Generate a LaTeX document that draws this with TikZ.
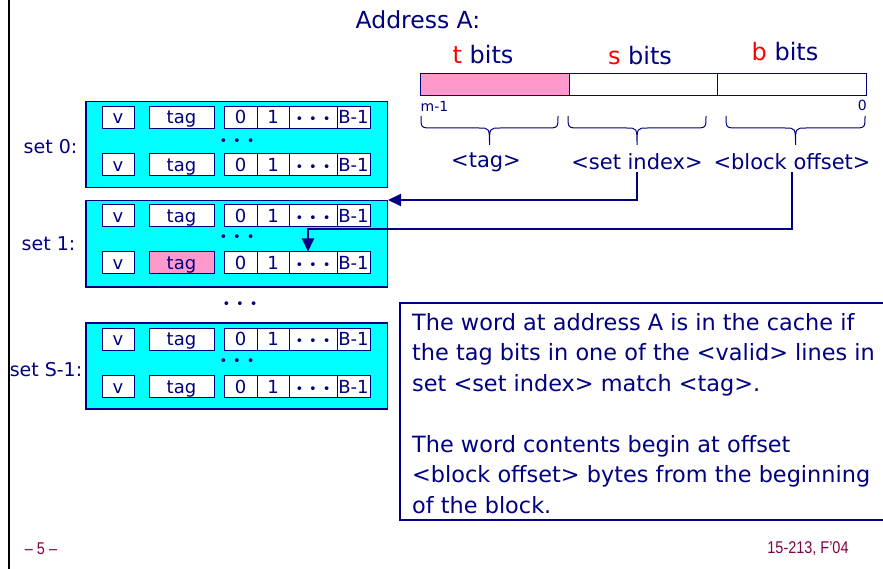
\documentclass[tikz,border=0pt]{standalone}
\usepackage{fontspec}
\setmainfont{DejaVu Sans}
\newfontfamily\footfont{Liberation Sans}
\usetikzlibrary{arrows.meta}
\definecolor{navy}{RGB}{0,0,128}
\definecolor{cyanfill}{RGB}{0,255,255}
\definecolor{pinkfill}{RGB}{255,153,204}
\definecolor{footcol}{RGB}{128,0,64}
\definecolor{bitred}{RGB}{255,0,0}
\newcommand\tdots{{\fontsize{13}{13}\selectfont •\hspace{6pt}•\hspace{6pt}•}}
\newcommand\drawcacheline[3]{%
  \node[cell, minimum width=32pt] (#1v) at (118,#2) {v};
  \node[cell, minimum width=65pt, fill=#3] (#1t) at (181.5,#2) {tag};
  \node[cell, minimum width=33pt] (#1z) at (240.5,#2) {0};
  \node[cell, minimum width=32pt] (#1o) at (273,#2) {1};
  \node[cell, minimum width=48pt] (#1d) at (313,#2) {\tdots};
  \node[cell, minimum width=33pt] (#1b) at (353.5,#2) {B-1};
}
\begin{document}
\begin{tikzpicture}[x=1pt,y=-1pt,
  setbox/.style={draw=navy, fill=cyanfill, line width=1.5pt, minimum width=301.5pt,
    minimum height=86pt, inner sep=0pt, anchor=north west},
  cell/.style={draw=navy, fill=white, line width=1pt, minimum height=22pt, inner sep=0pt,
    text=navy, font=\fontsize{18}{18}\selectfont, text height=15.5pt, text depth=2.5pt},
  setlbl/.style={text=navy, inner sep=0pt, font=\fontsize{19}{19}\selectfont},
  dotsnode/.style={text=navy, inner sep=0pt},
  bitbox/.style={draw=navy, fill=white, line width=1pt, minimum height=22pt, inner sep=0pt},
  bitlbl/.style={text=navy, inner sep=0pt, font=\fontsize{24}{24}\selectfont},
  fieldlbl/.style={text=navy, inner sep=2pt, font=\fontsize{21}{21}\selectfont},
  smalllbl/.style={text=navy, inner sep=0pt, font=\fontsize{14}{14}\selectfont},
  bracepath/.style={draw=navy, line width=1pt},
  conn/.style={draw=navy, line width=2pt, -{Triangle[length=13pt,width=12pt]}},
  notetext/.style={text=navy, inner sep=0pt, align=left, font=\fontsize{22.4}{30.5}\selectfont},
  noteborder/.style={draw=navy, line width=2pt},
  foot/.style={text=footcol, inner sep=0pt, font=\footfont\fontsize{17}{17}\selectfont}
]
\useasboundingbox (0,0) rectangle (883,569);
\fill[white] (0,0) rectangle (883,569);
\draw[black, line width=2pt] (8.5,0) -- (8.5,569);

% sets
\node[setbox] (set0) at (85,101) {};
\node[setbox] (set1) at (85,200) {};
\node[setbox] (setS) at (85,322) {};

\drawcacheline{a}{117.3}{white}
\node[dotsnode] (adots) at (237,142) {\tdots};
\drawcacheline{b}{165}{white}
\drawcacheline{c}{216}{white}
\node[dotsnode] (cdots) at (237,238) {\tdots};
\drawcacheline{d}{263}{pinkfill}
\drawcacheline{e}{339}{white}
\node[dotsnode] (edots) at (237,361.7) {\tdots};
\drawcacheline{f}{386.5}{white}

\node[dotsnode] (setdots) at (240,305) {\tdots};

\node[setlbl] (l0) at (50.5,147) {set 0:};
\node[setlbl] (l1) at (48.5,244) {set 1:};
\node[setlbl] (lS) at (46,370) {set S-1:};

% address
\node[text=navy, inner sep=0pt, font=\fontsize{23.5}{23.5}\selectfont] (addr) at (418,20) {Address A:};
\node[bitbox, fill=pinkfill, minimum width=149pt] (tbox) at (494.5,85) {};
\node[bitbox, minimum width=148pt] (sbox) at (643,85) {};
\node[bitbox, minimum width=149pt] (bbox) at (791.5,85) {};
\node[bitlbl] (tl) at (483,55) {{\color{bitred}t} bits};
\node[bitlbl] (sl) at (640,56) {{\color{bitred}s} bits};
\node[bitlbl] (bl) at (785,52) {{\color{bitred}b} bits};
\node[smalllbl, anchor=west] (msb) at (420.5,106) {m-1};
\node[smalllbl, anchor=east] (lsb) at (867,105) {0};

% braces
\draw[bracepath] (421,116) .. controls (421,128) .. (433,128) -- (479,128)
  .. controls (489.5,128) .. (489.5,145) .. controls (489.5,128) .. (500,128)
  -- (546,128) .. controls (558,128) .. (558,116);
\draw[bracepath] (568,116) .. controls (568,128) .. (580,128) -- (626.5,128)
  .. controls (637,128) .. (637,145) .. controls (637,128) .. (647.5,128)
  -- (694,128) .. controls (706,128) .. (706,116);
\draw[bracepath] (726,116) .. controls (726,128) .. (738,128) -- (785,128)
  .. controls (795.5,128) .. (795.5,145) .. controls (795.5,128) .. (806,128)
  -- (853,128) .. controls (865,128) .. (865,116);

\node[fieldlbl] (tagf) at (486,162) {<tag>};
\node[fieldlbl] (setidx) at (637,162) {<set index>};
\node[fieldlbl] (blkoff) at (792,162) {<block offset>};

% connectors
\coordinate (bend) at (308,229);
\draw[conn] (setidx.south) |- (set1.north east);
\draw[conn] (blkoff.south) |- (bend) -- (bend |- dd.north);

% note
\node[notetext, anchor=north west] (note) at (412,313) {The word at address A is in the cache if\\
the tag bits in one of the <valid> lines in\\
set <set index> match <tag>.\\[30.5pt]
The word contents begin at offset\\
<block offset> bytes from the beginning\\
of the block.};
\draw[noteborder] (890,303) -| (400,520) -- (890,520);

% footer
\node[foot, xscale=0.85, transform shape] (pg) at (41,549) {– 5 –};
\node[foot, xscale=0.85, transform shape] (course) at (808,549) {15-213, F’04};
\end{tikzpicture}
\end{document}
